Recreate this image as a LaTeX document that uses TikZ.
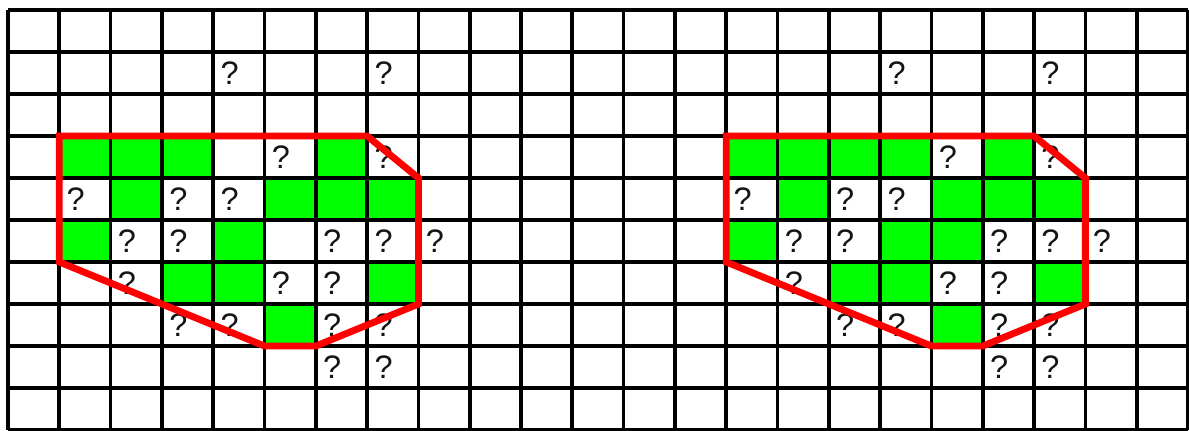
\documentclass[tikz,border=0pt]{standalone}
\usepackage{fontspec}
\setmainfont{Liberation Sans}
\usetikzlibrary{positioning}
\definecolor{VerdeCelda}{RGB}{0,255,0}
\definecolor{RojoBorde}{RGB}{255,0,0}
\definecolor{GrisTexto}{RGB}{20,20,20}
\tikzset{
  lineagrid/.style={black, line width=2.1pt},
  celdaverde/.style={fill=VerdeCelda},
  incognita/.style={inner sep=0pt, text=GrisTexto, font=\fontsize{18.5pt}{20pt}\selectfont},
  contorno/.style={RojoBorde, line width=3.9pt}
}

\begin{document}
\begin{tikzpicture}[x=1.026cm, y=-0.84cm]
  \useasboundingbox (-0.156,-0.238) rectangle (23.02,10.0);

  % Celdas verdes (panel izquierdo)
  \foreach \c/\r in {1/3,2/3,3/3,6/3, 2/4,5/4,6/4,7/4, 1/5,4/5, 3/6,4/6,7/6, 5/7}
    \fill[celdaverde] (\c,\r) rectangle ++(1,1);
  % Celdas verdes (panel derecho)
  \foreach \c/\r in {14/3,15/3,16/3,17/3,19/3, 15/4,18/4,19/4,20/4, 14/5,17/5,18/5, 16/6,17/6,20/6, 18/7}
    \fill[celdaverde] (\c,\r) rectangle ++(1,1);

  % Cuadricula
  \foreach \c in {0,...,23}
    \draw[lineagrid] (\c,0) -- (\c,10);
  \foreach \r in {0,...,10}
    \draw[lineagrid] (0,\r) -- (23,\r);

  % Incognitas
  \foreach \s in {0,13}{
    \foreach \c/\r in {4/1,7/1, 5/3,7/3, 1/4,3/4,4/4, 2/5,3/5,6/5,7/5,8/5, 2/6,5/6,6/6, 3/7,4/7,6/7,7/7, 6/8,7/8}{
      \pgfmathtruncatemacro{\cc}{\c+\s}
      \node[incognita] (q-\cc-\r) at (\cc+0.32,\r+0.5) {?};
    }
  }

  % Contornos
  \foreach \s in {0,13}
    \draw[contorno] (1+\s,3) -- (7+\s,3) -- (8+\s,4) -- (8+\s,7) -- (6+\s,8) -- (5+\s,8) -- (1+\s,6) -- cycle;
\end{tikzpicture}
\end{document}
